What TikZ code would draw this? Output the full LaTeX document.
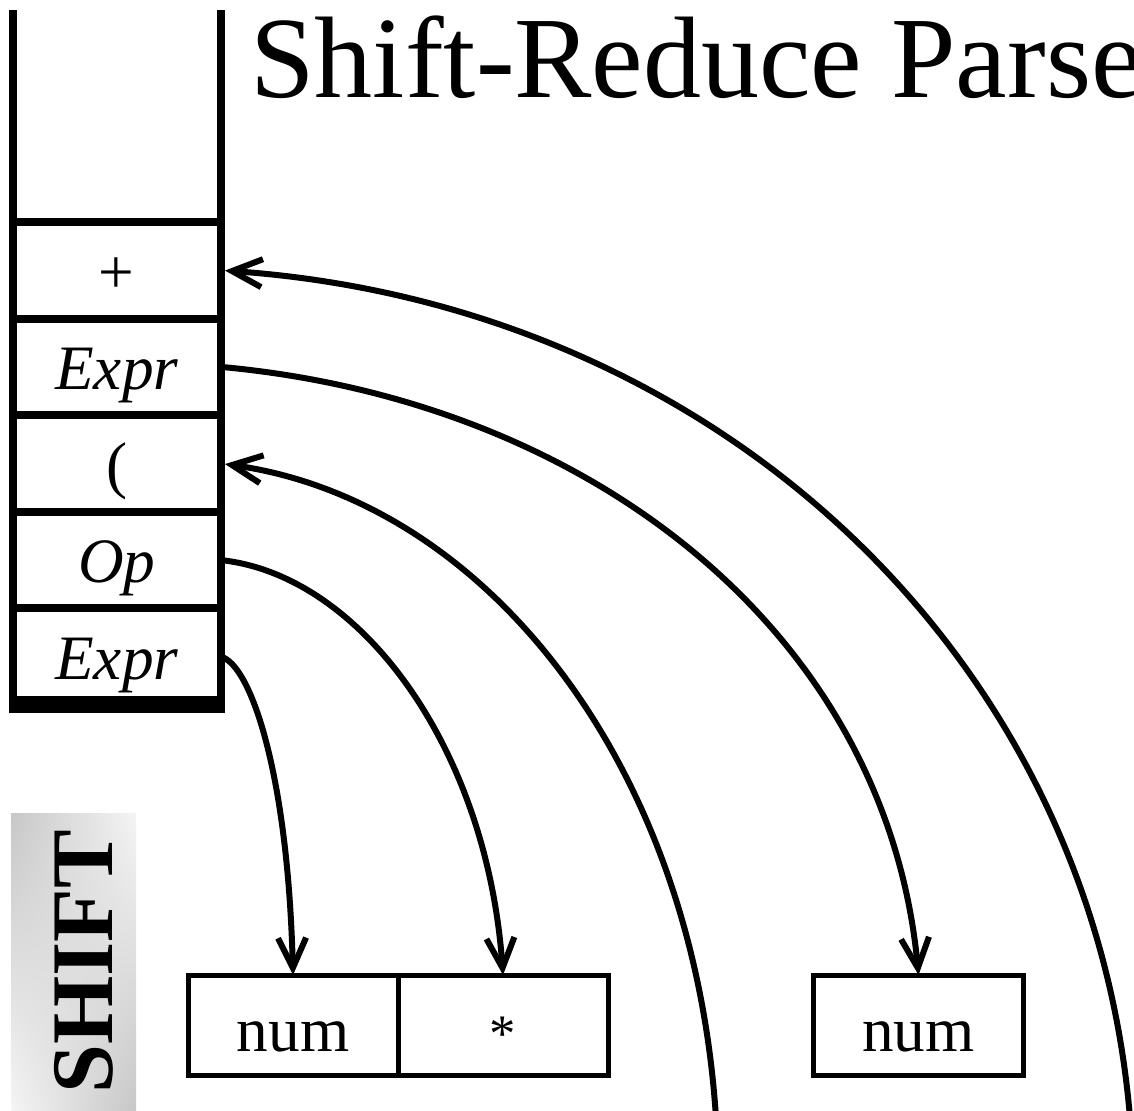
\documentclass[tikz,border=0pt]{standalone}
\usepackage{fontspec}
\setmainfont{Liberation Serif}
\usetikzlibrary{positioning,arrows.meta,shadings}

\begin{document}
\begin{tikzpicture}[x=0.1mm, y=-0.1mm, node distance=9.66mm]
    \tikzstyle{cell} = [rectangle, draw=black, line width=0.8mm, minimum width=20.85mm, minimum height=9.66mm, inner sep=0pt, outer sep=0pt, text height=13pt, text depth=0pt, font=\fontsize{18}{18}\selectfont]
    \tikzstyle{token} = [rectangle, draw=black, line width=0.5mm, minimum width=21mm, minimum height=10mm, inner sep=0pt, outer sep=0pt, text height=15pt, text depth=0pt, font=\fontsize{18}{18}\selectfont]
    \tikzstyle{arrow} = [line width=0.6mm, -{Straight Barb[length=3mm, width=2.8mm]}]

    \useasboundingbox (0,0) rectangle (1134,1111);

    \node (title) at (238,98) [anchor=base west, font=\fontsize{33}{33}\selectfont] {Shift-Reduce Parse};

    % the stack, top cell first
    \node (s1) at (116.75,270.3) [cell] {+};
    \node (s2) [cell, below of=s1] {\itshape Expr};
    \node (s3) [cell, below of=s2] {(};
    \node (s4) [cell, below of=s3] {\itshape Op};
    \node (s5) [cell, below of=s4] {\itshape Expr};
    \draw [line width=0.8mm] (s1.north west) -- ++(0,-212);
    \draw [line width=0.8mm] (s1.north east) -- ++(0,-212);
    \draw [line width=1.7mm] ([xshift=-0.4mm]s5.south west) -- ([xshift=0.4mm]s5.south east);

    % input tokens
    \node (t1) at (293,1025) [token] {num};
    \node (t2) [token, right=0pt of t1, font=\fontsize{15}{15}\selectfont] {*};
    \node (t3) at (918.5,1025) [token] {num};

    % SHIFT tag
    \shade [upper left=black!22, upper right=black!4, lower left=black!4, lower right=black!22] (11,813) rectangle (136,1111);
    \node (tag) at (112,962) [rotate=90, anchor=base, font=\bfseries\fontsize{25}{25}\selectfont] {SHIFT};

    \coordinate (a1) at (1130,1118);
    \coordinate (a3) at (716,1118);

    \draw [arrow, shorten >=0.4mm] (a1) .. controls +(-38,-458) and +(500,35) .. (s1.east);
    \draw [arrow] (s2.east) .. controls +(372,34) and +(-32,-340) .. (t3.north);
    \draw [arrow, shorten >=0.4mm] (a3) .. controls +(-23,-358) and +(262,37) .. (s3.east);
    \draw [arrow] (s4.east) .. controls +(140,15) and +(-16,-227) .. (t2.north);
    \draw [arrow] (s5.east) .. controls +(30,8) and +(-5,-200) .. (t1.north);
\end{tikzpicture}
\end{document}
